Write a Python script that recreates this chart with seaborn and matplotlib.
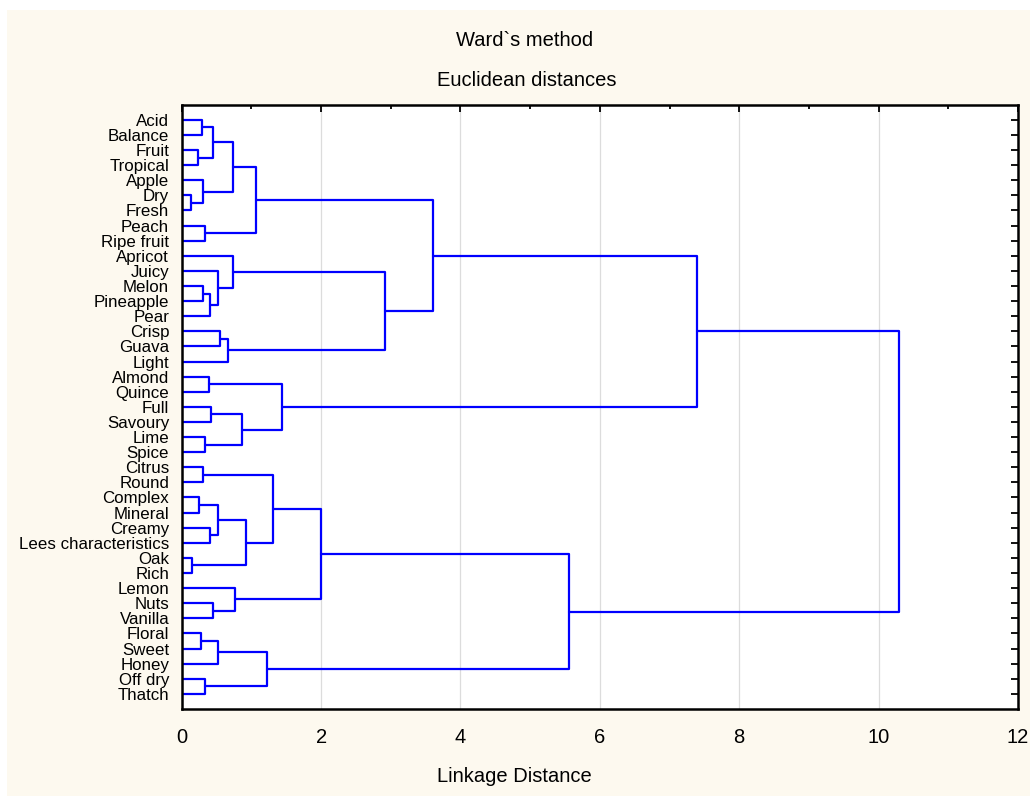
import matplotlib
matplotlib.use("Agg")
import matplotlib.pyplot as plt
import seaborn as sns
import pandas as pd
from matplotlib.patches import Rectangle
from matplotlib.ticker import MultipleLocator

# leaf order, top to bottom
leaves = ["Acid", "Balance", "Fruit", "Tropical", "Apple", "Dry", "Fresh", "Peach",
          "Ripe fruit", "Apricot", "Juicy", "Melon", "Pineapple", "Pear", "Crisp",
          "Guava", "Light", "Almond", "Quince", "Full", "Savoury", "Lime", "Spice",
          "Citrus", "Round", "Complex", "Mineral", "Creamy", "Lees characteristics",
          "Oak", "Rich", "Lemon", "Nuts", "Vanilla", "Floral", "Sweet", "Honey",
          "Off dry", "Thatch"]

# merges: cluster k is called "c<k>"
link_a = ["Dry", "Oak", "Fruit", "Complex", "Floral", "Acid", "Melon", "Citrus",
          "Apple", "Peach", "Lime", "Off dry", "Almond", "c6", "Creamy", "Full",
          "c5", "Nuts", "c3", "Juicy", "c4", "Crisp", "c21", "c16", "Apricot",
          "Lemon", "c15", "c18", "c23", "c20", "c7", "c12", "c30", "c24", "c28",
          "c32", "c34", "c36"]
link_b = ["Fresh", "Rich", "Tropical", "Mineral", "Sweet", "Balance", "Pineapple",
          "Round", "c0", "Ripe fruit", "Spice", "Thatch", "Quince", "Pear",
          "Lees characteristics", "Savoury", "c2", "Vanilla", "c14", "c13", "Honey",
          "Guava", "Light", "c8", "c19", "c17", "c10", "c1", "c9", "c11", "c27",
          "c26", "c25", "c22", "c33", "c29", "c31", "c35"]
link_h = [0.13, 0.15, 0.24, 0.25, 0.28, 0.29, 0.30, 0.30, 0.31, 0.33, 0.33, 0.34,
          0.39, 0.41, 0.41, 0.42, 0.445, 0.45, 0.52, 0.525, 0.525, 0.55, 0.66, 0.73,
          0.73, 0.765, 0.87, 0.92, 1.06, 1.23, 1.31, 1.44, 2.0, 2.92, 3.61, 5.56,
          7.40, 10.29]

pos = {name: i + 1 for i, name in enumerate(leaves)}
hgt = {name: 0.0 for name in leaves}
rows = []
for k, (a, b, h) in enumerate(zip(link_a, link_b, link_h)):
    node = f"c{k}"
    for x, y in [(hgt[a], pos[a]), (h, pos[a]), (h, pos[b]), (hgt[b], pos[b])]:
        rows.append({"link": node, "x": x, "y": y})
    pos[node] = (pos[a] + pos[b]) / 2
    hgt[node] = h
segs = pd.DataFrame(rows)

sns.set_style("white")
plt.rcParams["font.family"] = ["Liberation Sans", "DejaVu Sans"]
plt.rcParams["text.color"] = "black"
plt.rcParams["xtick.color"] = "black"
plt.rcParams["ytick.color"] = "black"

fig = plt.figure(figsize=(10.30, 7.96), dpi=100)
fig.patch.set_facecolor("white")
fig.patches.append(Rectangle((7 / 1030, 0), 1, 1 - 10 / 796, transform=fig.transFigure,
                             facecolor="#fdf9ef", edgecolor="none", zorder=-10))
ax = fig.add_axes([181.7 / 1030, 1 - 709 / 796, (1018 - 181.7) / 1030, (709 - 104.7) / 796])
ax.set_facecolor("white")

sns.lineplot(data=segs, x="x", y="y", units="link", estimator=None, sort=False,
             color="#0000ff", linewidth=1.6, legend=False, ax=ax)

ax.set_xlim(0, 12)
ax.set_ylim(len(leaves) + 1, 0)
ax.xaxis.set_major_locator(MultipleLocator(2))
ax.xaxis.set_minor_locator(MultipleLocator(1))
ax.set_yticks(range(1, len(leaves) + 1))
ax.set_yticklabels(leaves)
ax.grid(axis="x", which="major", color="#dcdcdc", linewidth=0.9)
ax.set_axisbelow(True)

ax.tick_params(axis="both", which="both", direction="in", top=True, right=True,
               width=1.3, color="black", labelcolor="black")
ax.tick_params(axis="x", which="major", length=5, labelsize=14.5, pad=14)
ax.tick_params(axis="x", which="minor", length=3)
ax.tick_params(axis="y", which="major", length=5, labelsize=12.2, pad=9)
for s in ax.spines.values():
    s.set_color("black")
    s.set_linewidth(1.8)

ax.set_xlabel("")
ax.set_ylabel("")

fig.text(525 / 1030, 1 - 41 / 796, "Ward`s method", ha="center", va="center", fontsize=14.5)
fig.text(527 / 1030, 1 - 81 / 796, "Euclidean distances", ha="center", va="center", fontsize=14.5)
fig.text(514 / 1030, 1 - 776 / 796, "Linkage Distance", ha="center", va="center", fontsize=14.5)

fig.savefig("out.png", dpi=100)
